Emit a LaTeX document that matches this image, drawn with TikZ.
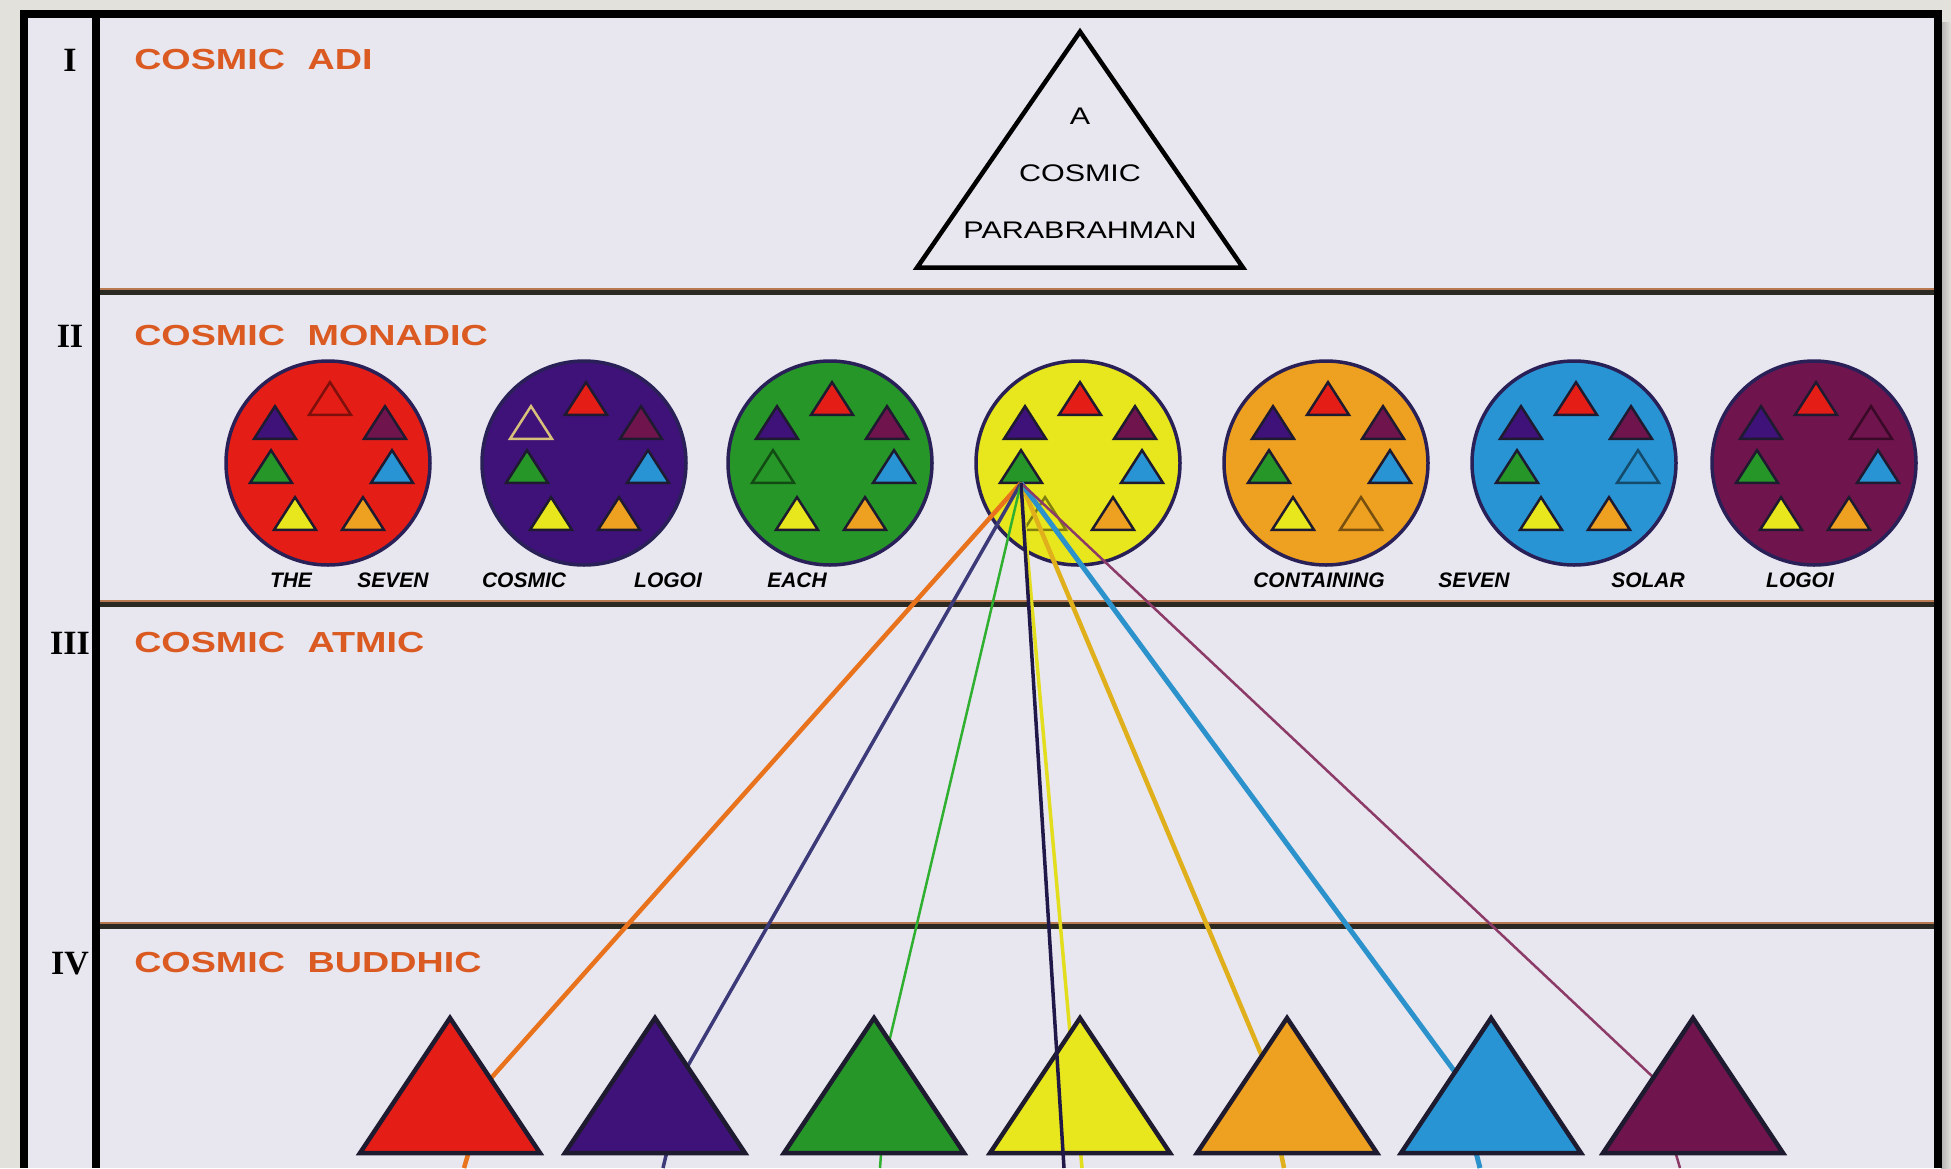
\documentclass[tikz,border=0pt]{standalone}
\usepackage{fontspec}
\setmainfont{Liberation Sans}
\newfontfamily\numfont{Liberation Serif}
\usetikzlibrary{shapes.geometric,calc}
\pgfdeclarelayer{back}
\pgfdeclarelayer{wires}
\pgfsetlayers{back,wires,main}

\definecolor{outside}{HTML}{E3E1DB}
\definecolor{paper}{HTML}{E8E6EE}
\definecolor{lvltext}{HTML}{DA5A22}
\definecolor{rulecol}{HTML}{2B2A22}
\definecolor{ruletint}{HTML}{B87850}
\definecolor{rimcol}{HTML}{2A2058}
\definecolor{edgecol}{HTML}{1E1A30}
\definecolor{hollowtan}{HTML}{D8C07A}
\definecolor{cred}{HTML}{E41E16}
\definecolor{cind}{HTML}{3E1278}
\definecolor{cgrn}{HTML}{269628}
\definecolor{cyel}{HTML}{E8E61C}
\definecolor{corg}{HTML}{EEA020}
\definecolor{cblu}{HTML}{2894D4}
\definecolor{cpur}{HTML}{70144E}
\definecolor{lred}{HTML}{E8731C}
\definecolor{lind}{HTML}{3C3A78}
\definecolor{lgrn}{HTML}{30B030}
\definecolor{ldark}{HTML}{201848}
\definecolor{lyel}{HTML}{E2DE1E}
\definecolor{lgld}{HTML}{E0B01C}
\definecolor{lblu}{HTML}{2C92CC}
\definecolor{lpur}{HTML}{8C3A68}

\begin{document}
\begin{tikzpicture}[
    x=1pt, y=-1pt,
    rulebar/.style={rulecol, line width=5pt},
    level/.style={font=\bfseries\fontsize{29}{34}\selectfont, text=lvltext, anchor=base west, inner sep=0pt, xscale=1.3},
    numeral/.style={font=\numfont\bfseries\fontsize{34}{40}\selectfont, anchor=base, inner sep=0pt},
    word/.style={font=\bfseries\itshape\fontsize{21}{25}\selectfont, anchor=base, inner sep=0pt},
    disc/.style={circle, draw=rimcol, line width=3.5pt, minimum size=204pt, inner sep=0pt},
    small/.style={regular polygon, regular polygon sides=3, minimum size=48.5pt, inner sep=0pt, outer sep=0pt, yscale=0.9, line width=2.5pt},
    big/.style={regular polygon, regular polygon sides=3, minimum size=207.8pt, inner sep=0pt, outer sep=0pt, yscale=0.866, draw=edgecol, line width=4.5pt},
    ray/.style={line join=round}
]
\useasboundingbox (0,0) rectangle (1951,1168);

\begin{pgfonlayer}{back}
    \fill[outside] (0,0) rectangle (1951,1168);
    \shade[left color=black!30, right color=outside] (1941,22) rectangle (1951,1168);
    \fill[paper] (24,14) rectangle (1937,1168);
    \foreach \y in {292,604,926} {
        \draw[ruletint, line width=2pt] (96,\y-3) -- (1937,\y-3);
        \draw[rulebar] (96,\y) -- (1937,\y);
    }
    \draw[black, line width=8pt] (23.5,1168) -- (23.5,14) -- (1937.5,14) -- (1937.5,1168);
    \draw[black, line width=8pt] (96,14) -- (96,1168);

    \foreach \x/\c/\h/\k [count=\i] in {328/cred/cred!55!black/1, 584/cind/hollowtan/7, 830/cgrn/cgrn!50!black/6, 1078/cyel/cyel!55!black/5, 1326/corg/corg!50!black/4, 1574/cblu/cblu!50!black/3, 1814/cpur/cpur!50!black/2} {
        \node[disc, fill=\c] (m\i) at (\x,463) {};
        \foreach \t/\dx/\dy [count=\j] in {cred/2/-59, cpur/57/-35, cblu/64/9, corg/35/56, cyel/-33/56, cgrn/-57/9, cind/-53/-35} {
            \ifnum\j=\k
                \node[small, draw=\h] (s\i-\j) at ($(m\i)+(\dx,\dy)$) {};
            \else
                \node[small, draw=edgecol, fill=\t] (s\i-\j) at ($(m\i)+(\dx,\dy)$) {};
            \fi
        }
    }
\end{pgfonlayer}

\foreach \y/\n/\s [count=\i] in {71/I/ADI, 347/II/MONADIC, 654/III/ATMIC, 974/IV/BUDDHIC} {
    \node[numeral] (n\i) at (70,\y) {\n};
    \node[level] (lv\i) at (134,\y-2) {COSMIC\hspace{0.6em}\s};
}

\node[regular polygon, regular polygon sides=3, minimum size=376.4pt, inner sep=0pt, outer sep=0pt, yscale=0.836, draw=black, line width=4.5pt] (adi) at (1080,189) {};
\node[font=\fontsize{24}{57}\selectfont, align=center, xscale=1.27, inner sep=0pt] (adiname) at (1080,173) {A\\COSMIC\\PARABRAHMAN};

\foreach \x/\s [count=\i] in {291/THE, 393/SEVEN, 524/COSMIC, 668/LOGOI, 797/EACH, 1319/CONTAINING, 1474/SEVEN, 1648/SOLAR, 1800/LOGOI}
    \node[word] (w\i) at (\x,587) {\s};

\coordinate (src) at (s4-6.side 2);

\foreach \x/\c [count=\i] in {450/cred, 655/cind, 874/cgrn, 1080/cyel, 1287/corg, 1491/cblu, 1693/cpur}
    \node[big, fill=\c] (t\i) at (\x,1108) {};

\begin{pgfonlayer}{wires}
    \foreach \k/\f/\e/\c/\w/\x in {1/.45/3/lred/4.5/464, 2/.36/3/lind/3.5/663, 3/.17/3/lgrn/2.5/880, 5/.28/2/lgld/4.5/1284, 6/.4/2/lblu/5/1480, 7/.44/2/lpur/2.5/1680} {
        \coordinate (foot\k) at (\x,1168);
        \draw[ray, color=\c, line width=\w pt] (src) -- ($(t\k.corner 1)!\f!(t\k.corner \e)$) -- (foot\k);
    }
    \coordinate (foot4) at (1082,1168);
    \draw[ray, lyel, line width=3.5pt] (src) -- (foot4);
\end{pgfonlayer}
\coordinate (foot0) at (1064,1168);
\draw[ray, ldark, line width=3.5pt] (src) -- (foot0);
\end{tikzpicture}
\end{document}
